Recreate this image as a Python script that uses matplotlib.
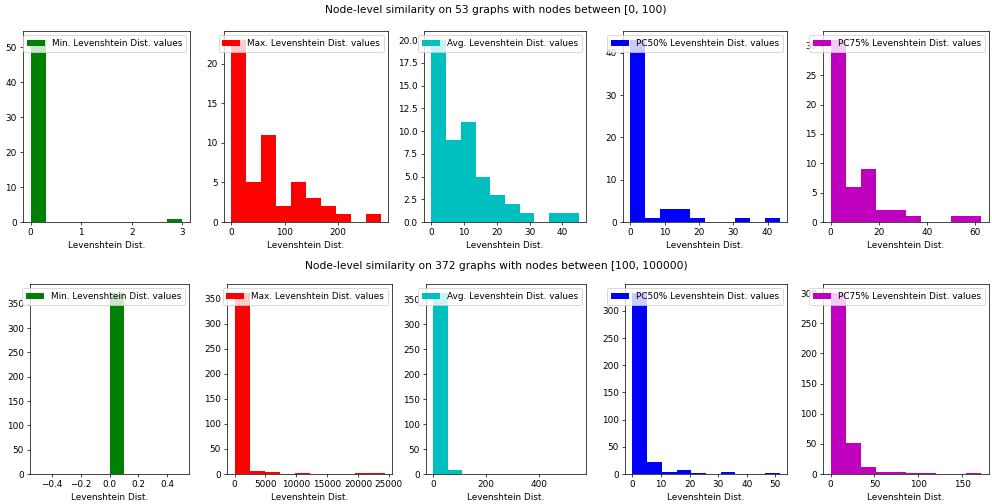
import numpy as np
import matplotlib
matplotlib.use("Agg")
import matplotlib.pyplot as plt
from matplotlib.ticker import MultipleLocator

# Histogram bin counts (10 bins each) and the value range spanned by the bins
labels = ["Min.", "Max.", "Avg.", "PC50%", "PC75%"]
colors = ["g", "r", "c", "b", "m"]

small_title = "Node-level similarity on 53 graphs with nodes between [0, 100)"
small_ranges = [(0, 3), (0, 280), (0, 45), (0, 43.5), (0, 62.5)]
small_min = [52, 0, 0, 0, 0, 0, 0, 0, 0, 1]
small_max = [23, 5, 11, 2, 5, 3, 2, 1, 0, 1]
small_avg = [20, 9, 11, 5, 3, 2, 1, 0, 1, 1]
small_pc50 = [43, 1, 3, 3, 1, 0, 0, 1, 0, 1]
small_pc75 = [31, 6, 9, 2, 2, 1, 0, 0, 1, 1]

large_title = "Node-level similarity on 372 graphs with nodes between [100, 100000)"
large_ranges = [(-0.5, 0.5), (0, 24300), (0, 552), (0, 51.5), (0, 172)]
large_min = [0, 0, 0, 0, 0, 372, 0, 0, 0, 0]
large_max = [361, 5, 3, 0, 1, 0, 0, 0, 1, 1]
large_avg = [362, 9, 0, 0, 0, 0, 0, 0, 0, 1]
large_pc50 = [333, 23, 3, 7, 2, 0, 3, 0, 0, 1]
large_pc75 = [300, 52, 11, 3, 3, 1, 1, 0, 0, 1]

W, H = 992, 504
DPI = 64

# Panel frames in pixels: (title y, axes top, axes bottom, lefts, rights)
layout = [
    (10, 31, 222, [23, 224, 424, 623, 823], [190, 388, 586, 787, 989]),
    (266, 284, 474, [30, 227, 426, 625, 823], [189, 392, 586, 787, 989]),
]

rows = [
    (small_title, small_ranges, [small_min, small_max, small_avg, small_pc50, small_pc75]),
    (large_title, large_ranges, [large_min, large_max, large_avg, large_pc50, large_pc75]),
]

fig = plt.figure(figsize=(W / DPI, H / DPI), dpi=DPI)

for (title, ranges, counts_list), (ty, top, bot, lefts, rights) in zip(rows, layout):
    fig.text(0.5, 1 - ty / H, title, ha="center", va="center", fontsize="large")
    for lab, col, (lo, hi), counts, l, r in zip(labels, colors, ranges, counts_list, lefts, rights):
        ax = fig.add_axes([l / W, 1 - bot / H, (r - l) / W, (bot - top) / H])
        edges = np.linspace(lo, hi, len(counts) + 1)
        ax.hist(edges[:-1], bins=edges, weights=counts, color=col,
                label=f"{lab} Levenshtein Dist. values")
        ax.set_xlabel("Levenshtein Dist.")
        ax.legend(loc="upper right")
        if lo < 0:
            # single-valued data: ticks every 0.2 around zero
            ax.xaxis.set_major_locator(MultipleLocator(0.2))

fig.savefig("out.png", dpi=DPI)
